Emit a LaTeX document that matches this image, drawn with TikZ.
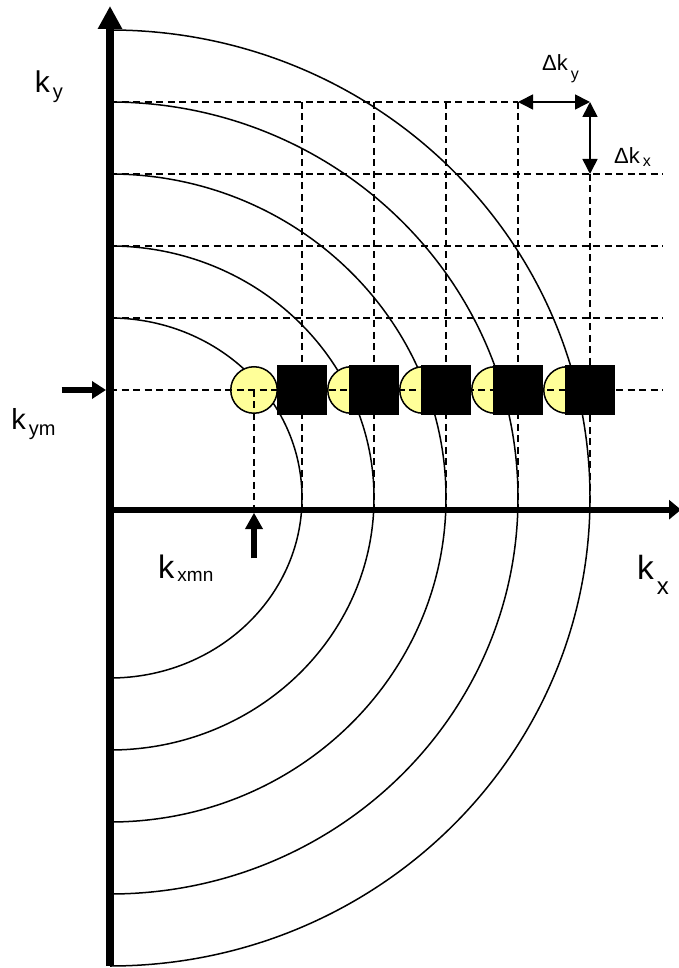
\documentclass[tikz,border=0pt]{standalone}
\usepackage{fontspec}
\setmainfont{Liberation Sans}
\usepackage{tikz}
\usetikzlibrary{arrows.meta}
\definecolor{kyellow}{RGB}{255,255,153}
\newcommand{\kfont}[1]{\fontsize{#1}{#1}\selectfont}
\newcommand{\ksub}[3]{\kern3pt\raisebox{-#1pt}{\kfont{#2}#3}}

\begin{document}
\begin{tikzpicture}[x=1pt,y=1pt,
  ring/.style={line width=1.5pt},
  gridln/.style={line width=1.4pt,dash pattern=on 7pt off 4.5pt},
  dot/.style={draw,circle,fill=kyellow,line width=1.5pt,minimum size=46.5pt,inner sep=0pt},
  blk/.style={fill=black,minimum width=50pt,minimum height=50pt,inner sep=0pt},
  lbl/.style={anchor=base west,inner sep=0pt},
  dk/.style={line width=1.6pt,{Triangle[length=15pt,width=15pt]}-{Triangle[length=15pt,width=15pt]}}]
  \useasboundingbox (-110,-470) rectangle (569,498);
  % rings
  \draw[ring] (0,180) arc[start angle=90,end angle=-90,x radius=192,y radius=180];
  \draw[ring] (0,252) arc[start angle=90,end angle=-90,x radius=264,y radius=252];
  \draw[ring] (0,324) arc[start angle=90,end angle=-90,x radius=336,y radius=324];
  \draw[ring] (0,396) arc[start angle=90,end angle=-90,x radius=408,y radius=396];
  \draw[ring] (0,468) arc[start angle=90,end angle=-90,x radius=480,y radius=468];
  % samples on the k_ym row
  \node[dot] (d1) at (144,108) {};
  \node[dot] (d2) at (241,108) {};
  \node[dot] (d3) at (313,108) {};
  \node[dot] (d4) at (385,108) {};
  \node[dot] (d5) at (457,108) {};
  \node[blk] (b1) at (192,108) {};
  \node[blk] (b2) at (264,108) {};
  \node[blk] (b3) at (336,108) {};
  \node[blk] (b4) at (408,108) {};
  \node[blk] (b5) at (480,108) {};
  % grid
  \draw[gridln] (0,396) -- (408,396);
  \draw[gridln] (0,324) -- (553,324);
  \draw[gridln] (0,252) -- (553,252);
  \draw[gridln] (0,180) -- (553,180);
  \draw[gridln] (0,108) -- (553,108);
  \draw[gridln] (192,396) -- (192,-11.7);
  \draw[gridln] (264,396) -- (264,-11.7);
  \draw[gridln] (336,396) -- (336,-11.7);
  \draw[gridln] (408,396) -- (408,-11.7);
  \draw[gridln] (480,324) -- (480,-11.7);
  \draw[gridln] (d1.center) -- (144,-11.7);
  % axes
  \coordinate (yfoot) at (0,-468);
  \coordinate (ytip) at (0,492);
  \coordinate (xstart) at (0,-11.7);
  \coordinate (xtip) at (571,-11.7);
  \draw[line width=7.5pt,-{Triangle[length=23pt,width=23pt]}] (yfoot) -- (ytip);
  \draw[line width=6pt,-{Triangle[length=12pt,width=19pt]}] (xstart) -- (xtip);
  % markers
  \coordinate (kymtail) at (-48.3,108);
  \coordinate (kymhead) at (-4,108);
  \draw[line width=5.3pt,-{Triangle[length=14pt,width=17pt]}] (kymtail) -- (kymhead);
  \coordinate (kxtail) at (144,-60.3);
  \coordinate (kxhead) at (144,-14.7);
  \draw[line width=6.5pt,-{Triangle[length=16.5pt,width=17pt]}] (kxtail) -- (kxhead);
  \coordinate (g1) at (408,396);
  \coordinate (g2) at (480,396);
  \coordinate (g3) at (480,324);
  \draw[dk] (g1) -- (g2);
  \draw[dk] (g2) -- (g3);
  % labels
  \node[lbl,font=\kfont{30}] (ky) at (-75.3,405.7) {k\ksub{6}{20}{y}};
  \node[lbl,font=\kfont{29}] (kym) at (-98.7,68) {k\ksub{6}{20}{ym}};
  \node[lbl,font=\kfont{32.5}] (kxmn) at (48,-80.3) {k\ksub{3.4}{19}{xmn}};
  \node[lbl,font=\kfont{33.5}] (kx) at (527,-82) {k\ksub{15}{24}{x}};
  \node[lbl,font=\kfont{22}] (dky) at (432,427.3) {Δk\ksub{9}{16}{y}};
  \node[lbl,font=\kfont{22}] (dkx) at (504,334) {Δk\ksub{3}{16}{x}};
\end{tikzpicture}
\end{document}
